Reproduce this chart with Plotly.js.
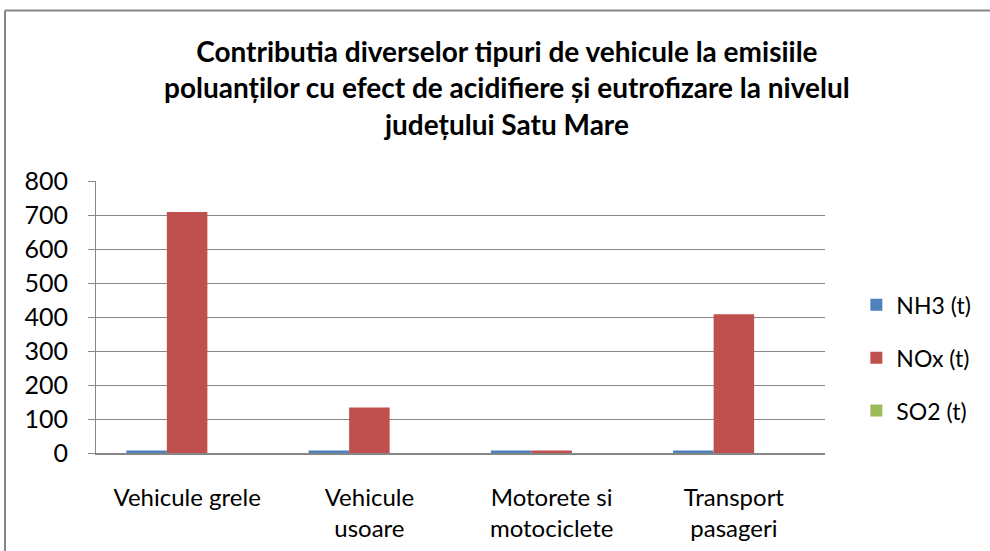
<!DOCTYPE html>
<html>
<head>
<meta charset="utf-8">
<script src="https://cdn.plot.ly/plotly-3.0.1.min.js"></script>
<style>html,body{margin:0;padding:0;background:#fff;}#chart{width:990px;height:551px;}</style>
</head>
<body>
<div id="chart"></div>
<script>
const categories = ["Vehicule grele", "Vehicule<br>usoare", "Motorete si<br>motociclete", "Transport<br>pasageri"];
const seriesNames = ["NH3 (t)", "NOx (t)", "SO2 (t)"];
const nh3 = [7, 7, 7, 7];
const nox = [709, 134, 7, 408];
const so2 = [0, 0, 0, 0];
const yTicks = [0, 100, 200, 300, 400, 500, 600, 700, 800];
const titleText = "Contributia diverselor tipuri de vehicule la emisiile<br>poluanților cu efect de acidifiere și eutrofizare la nivelul<br>județului Satu Mare";

const colors = ["#4F81BD", "#C0504D", "#9BBB59"];
const values = [nh3, nox, so2];
const FONT = "Lato, 'Open Sans', sans-serif";

const traces = values.map((v, i) => ({
  type: "bar",
  x: categories,
  y: v,
  name: seriesNames[i],
  legendgroup: "g" + i,
  marker: {color: colors[i], line: {width: 0}},
  hoverinfo: "x+y+name"
}));

const topY = (453 - 10.5) / 272;
const leftX = (5 - 96) / 729;

const layout = {
  width: 990,
  height: 551,
  margin: {l: 96, r: 165, t: 181, b: 98},
  paper_bgcolor: "#ffffff",
  plot_bgcolor: "#ffffff",
  barmode: "group",
  bargap: 0.333,
  bargroupgap: 0,
  title: {
    text: titleText,
    font: {family: FONT, size: 28, color: "#000000", weight: "bold"},
    x: 0.512, xanchor: "center",
    y: 0.888, yanchor: "middle"
  },
  xaxis: {
    type: "category",
    showline: true, linecolor: "#868686", linewidth: 2,
    showgrid: false, ticks: "",
    ticklabelstandoff: 22,
    tickfont: {family: FONT, size: 24, color: "#000000"},
    fixedrange: true
  },
  yaxis: {
    range: [0, 800],
    tickvals: yTicks,
    ticktext: yTicks.map(String),
    showline: true, linecolor: "#868686", linewidth: 1,
    showgrid: true, gridcolor: "#868686", gridwidth: 1,
    ticks: "outside", ticklen: 7, tickcolor: "#868686",
    ticklabelstandoff: 15,
    tickfont: {family: FONT, size: 25, color: "#000000"},
    zeroline: false,
    fixedrange: true
  },
  showlegend: true,
  legend: {
    x: 1.043, xanchor: "left",
    y: 0.35, yanchor: "middle",
    traceorder: "grouped",
    tracegroupgap: 20,
    font: {family: FONT, size: 23, color: "#000000"},
    bgcolor: "rgba(0,0,0,0)"
  },
  shapes: [
    {type: "line", xref: "paper", yref: "paper", x0: leftX, x1: 1.4, y0: topY, y1: topY,
     line: {color: "#868686", width: 2}},
    {type: "line", xref: "paper", yref: "paper", x0: leftX, x1: leftX, y0: -0.5, y1: topY,
     line: {color: "#868686", width: 2}}
  ]
};

Plotly.newPlot("chart", traces, layout, {displayModeBar: false, staticPlot: true});
</script>
</body>
</html>
